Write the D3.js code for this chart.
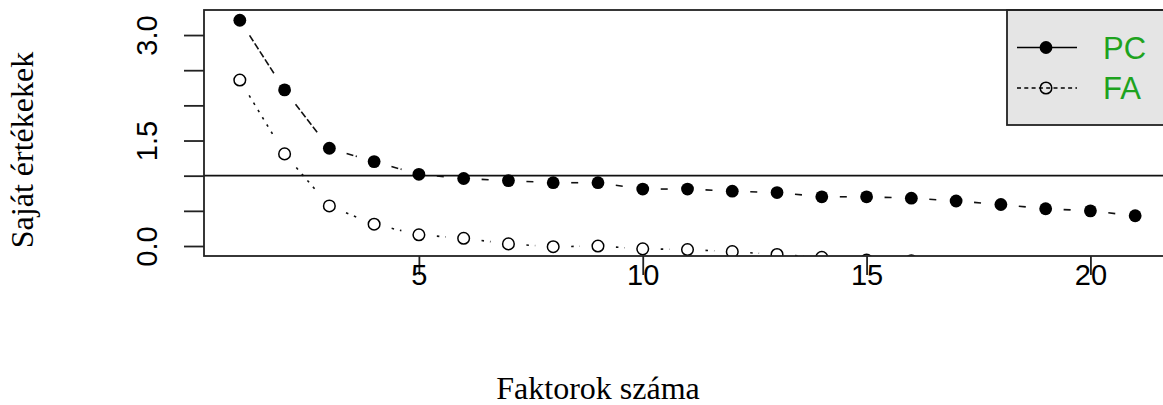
<!DOCTYPE html>
<html>
<head>
<meta charset="utf-8">
<script src="https://cdn.jsdelivr.net/npm/d3@7"></script>
<style>
  body { margin: 0; background: #fff; }
  svg { display: block; }
</style>
</head>
<body>
<svg id="chart" width="1163" height="405"></svg>
<script>
// eigenvalues
var factors = d3.range(1, 22);
var pcValues = [3.21, 2.22, 1.39, 1.20, 1.02, 0.96, 0.93, 0.90, 0.90, 0.81, 0.81,
                0.78, 0.76, 0.70, 0.70, 0.68, 0.64, 0.59, 0.53, 0.50, 0.43];
var faValues = [2.36, 1.31, 0.57, 0.31, 0.16, 0.11, 0.03, -0.01, 0.00, -0.04, -0.05,
                -0.08, -0.12, -0.16, -0.20, -0.21, -0.24, -0.26, -0.28, -0.30, -0.33];
var xTicks = [5, 10, 15, 20];
var yTicks = [0, 0.5, 1, 1.5, 2, 2.5, 3];
var yLabelled = [0, 1.5, 3];
var legendNames = ["PC", "FA"];
var cutoff = 1;

var plot = {left: 204, right: 1171, top: 10, bottom: 256};

var svg = d3.select("#chart");

var x = d3.scaleLinear().domain([0.2, 21.8]).range([plot.left, plot.right]);
var y = d3.scaleLinear().domain([-0.142, 3.356]).range([plot.bottom, plot.top]);

svg.append("defs").append("clipPath")
	.attr("id", "plotclip")
	.append("rect")
	.attr("x", plot.left).attr("y", plot.top)
	.attr("width", plot.right - plot.left).attr("height", plot.bottom - plot.top);

// axes
var xaxis = d3.axisBottom(x).tickValues(xTicks).tickSize(19).tickSizeOuter(0);
var yaxis = d3.axisLeft(y).tickValues(yTicks).tickSize(20).tickSizeOuter(0)
	.tickFormat(function(d) { return yLabelled.indexOf(d) >= 0 ? d3.format(".1f")(d) : ""; });

var gx = svg.append("g")
	.attr("transform", "translate(0," + plot.bottom + ")")
	.call(xaxis);
gx.select(".domain").remove();
gx.selectAll("line").attr("stroke", "#222").attr("stroke-width", 1.8);
gx.selectAll("text")
	.attr("y", 29).attr("dy", 0)
	.style("font-family", "'Liberation Sans', Arial, sans-serif")
	.style("font-size", "29px")
	.attr("fill", "#000");

var gy = svg.append("g")
	.attr("transform", "translate(" + plot.left + ",0)")
	.call(yaxis);
gy.select(".domain").remove();
gy.selectAll("line").attr("stroke", "#222").attr("stroke-width", 1.8);
gy.selectAll("text")
	.attr("x", 0).attr("dy", 0)
	.attr("transform", "translate(-47,0)rotate(-90)")
	.style("text-anchor", "middle")
	.style("font-family", "'Liberation Sans', Arial, sans-serif")
	.style("font-size", "29px")
	.attr("fill", "#000");

// plot contents (clipped)
var inner = svg.append("g").attr("clip-path", "url(#plotclip)");

inner.append("line")
	.attr("x1", plot.left).attr("x2", plot.right)
	.attr("y1", y(cutoff)).attr("y2", y(cutoff))
	.attr("stroke", "#111").attr("stroke-width", 1.8);

// type="b" style: segments with gaps around the points
var gap = 18;
function segments(values) {
	var segs = [];
	for (var i = 0; i < values.length - 1; i++) {
		var x0 = x(factors[i]), y0 = y(values[i]);
		var x1 = x(factors[i + 1]), y1 = y(values[i + 1]);
		var d = Math.sqrt((x1 - x0) * (x1 - x0) + (y1 - y0) * (y1 - y0));
		if (d <= 2 * gap) continue;
		var f = gap / d;
		segs.push({x1: x0 + (x1 - x0) * f, y1: y0 + (y1 - y0) * f,
		           x2: x1 - (x1 - x0) * f, y2: y1 - (y1 - y0) * f});
	}
	return segs;
}

inner.append("g").selectAll("line")
	.data(segments(pcValues))
	.enter().append("line")
	.attr("x1", function(d) { return d.x1; }).attr("y1", function(d) { return d.y1; })
	.attr("x2", function(d) { return d.x2; }).attr("y2", function(d) { return d.y2; })
	.attr("stroke", "#111").attr("stroke-width", 1.6)
	.attr("stroke-dasharray", "7,2.5");

inner.append("g").selectAll("line")
	.data(segments(faValues))
	.enter().append("line")
	.attr("x1", function(d) { return d.x1; }).attr("y1", function(d) { return d.y1; })
	.attr("x2", function(d) { return d.x2; }).attr("y2", function(d) { return d.y2; })
	.attr("stroke", "#111").attr("stroke-width", 1.6)
	.attr("stroke-dasharray", "2.5,6");

inner.append("g").selectAll("circle")
	.data(pcValues)
	.enter().append("circle")
	.attr("cx", function(d, i) { return x(factors[i]); })
	.attr("cy", function(d) { return y(d); })
	.attr("r", 6.4)
	.attr("fill", "#000");

inner.append("g").selectAll("circle")
	.data(faValues)
	.enter().append("circle")
	.attr("cx", function(d, i) { return x(factors[i]); })
	.attr("cy", function(d) { return y(d); })
	.attr("r", 5.8)
	.attr("fill", "none")
	.attr("stroke", "#000").attr("stroke-width", 1.5);

// legend
var lg = svg.append("g");
lg.append("rect")
	.attr("x", 1007).attr("y", plot.top)
	.attr("width", 170).attr("height", 115)
	.attr("fill", "#e5e5e5")
	.attr("stroke", "#222").attr("stroke-width", 1.8);

var rows = [47.5, 88];
lg.append("line").attr("x1", 1017).attr("x2", 1077).attr("y1", rows[0]).attr("y2", rows[0])
	.attr("stroke", "#000").attr("stroke-width", 1.6);
lg.append("circle").attr("cx", 1046).attr("cy", rows[0]).attr("r", 6.4).attr("fill", "#000");
lg.append("line").attr("x1", 1017).attr("x2", 1077).attr("y1", rows[1]).attr("y2", rows[1])
	.attr("stroke", "#000").attr("stroke-width", 1.5).attr("stroke-dasharray", "4,3.3");
lg.append("circle").attr("cx", 1046).attr("cy", rows[1]).attr("r", 5.8)
	.attr("fill", "none").attr("stroke", "#000").attr("stroke-width", 1.5);

lg.selectAll("text.leg")
	.data(legendNames)
	.enter().append("text")
	.attr("class", "leg")
	.attr("x", 1103)
	.attr("y", function(d, i) { return rows[i] + 11; })
	.style("font-family", "'Liberation Sans', Arial, sans-serif")
	.style("font-size", "31px")
	.attr("fill", "#1ea31e")
	.text(function(d) { return d; });

// plot box (drawn last, on top)
svg.append("rect")
	.attr("x", plot.left).attr("y", plot.top)
	.attr("width", plot.right - plot.left).attr("height", plot.bottom - plot.top)
	.attr("fill", "none")
	.attr("stroke", "#222").attr("stroke-width", 1.8);

// axis titles
svg.append("text")
	.attr("x", 598).attr("y", 399)
	.style("text-anchor", "middle")
	.style("font-family", "'Liberation Serif', 'Times New Roman', serif")
	.style("font-size", "32px")
	.text("Faktorok száma");

svg.append("text")
	.attr("transform", "translate(33,150)rotate(-90)")
	.style("text-anchor", "middle")
	.style("font-family", "'Liberation Serif', 'Times New Roman', serif")
	.style("font-size", "32px")
	.text("Saját értékekek");
</script>
</body>
</html>
